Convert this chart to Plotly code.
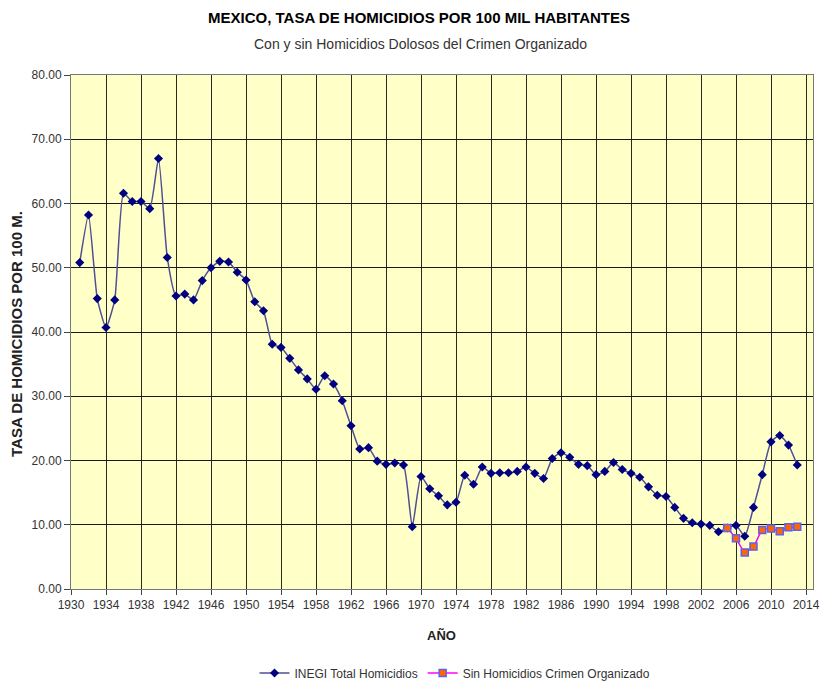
import plotly.graph_objects as go

years = list(range(1931, 2014))
inegi_total = [
    50.8, 58.2, 45.2, 40.7, 45.0, 61.6, 60.3, 60.3, 59.2, 67.0,
    51.6, 45.6, 45.9, 45.0, 48.0, 50.0, 51.0, 50.9, 49.3, 48.1,
    44.7, 43.3, 38.1, 37.6, 35.9, 34.1, 32.7, 31.1, 33.2, 31.9,
    29.3, 25.4, 21.8, 22.0, 19.9, 19.4, 19.6, 19.3, 9.7, 17.5,
    15.6, 14.5, 13.1, 13.5, 17.7, 16.3, 19.0, 18.0, 18.1, 18.1,
    18.3, 19.0, 18.0, 17.2, 20.3, 21.2, 20.5, 19.4, 19.2, 17.8,
    18.3, 19.7, 18.6, 18.0, 17.4, 15.9, 14.6, 14.4, 12.7, 11.0,
    10.3, 10.1, 9.9, 8.9, 9.5, 9.9, 8.2, 12.7, 17.8, 22.9,
    23.9, 22.4, 19.3,
]
sin_years = list(range(2005, 2014))
sin_crimen = [9.5, 7.9, 5.7, 6.6, 9.2, 9.4, 9.0, 9.6, 9.7]

x_ticks = list(range(1930, 2015, 4))
y_ticks = [0, 10, 20, 30, 40, 50, 60, 70, 80]

FONT = "Liberation Sans Narrow, Arial Narrow, Liberation Sans, Arial, sans-serif"

# plot area in window pixels: left 71, right 813, top 75, bottom 589
PW, PH = 742, 514

fig = go.Figure()
fig.add_trace(go.Scatter(
    x=years, y=inegi_total, mode="lines+markers",
    name="INEGI Total Homicidios",
    line=dict(color="#4f4f96", width=1.5, shape="spline", smoothing=0.5),
    marker=dict(symbol="diamond", size=7, color="#000080"),
))
fig.add_trace(go.Scatter(
    x=sin_years, y=sin_crimen, mode="lines+markers",
    name="Sin Homicidios Crimen Organizado",
    line=dict(color="#FF00FF", width=1.5, shape="spline", smoothing=0.5),
    marker=dict(symbol="square", size=7, color="#FF6600",
                line=dict(color="#6060F0", width=1.5)),
))

fig.update_layout(
    width=820, height=681,
    margin=dict(l=71, r=7, t=75, b=92, autoexpand=False),
    paper_bgcolor="white",
    plot_bgcolor="#FFFFC8",
    font=dict(family=FONT, size=12, color="#333333"),
    showlegend=True,
    legend=dict(orientation="h", x=(455 - 71) / PW, xanchor="center",
                y=-(673 - 589) / PH, yanchor="middle",
                font=dict(family=FONT, size=12, color="#333333"),
                bgcolor="rgba(0,0,0,0)", itemwidth=30),
    annotations=[
        dict(text="<b>MEXICO, TASA DE HOMICIDIOS POR 100 MIL HABITANTES</b>",
             xref="paper", yref="paper", x=(419 - 71) / PW, y=(589 - 18) / PH,
             xanchor="center", yanchor="middle", showarrow=False,
             font=dict(family=FONT, size=15, color="#000000")),
        dict(text="Con y sin Homicidios Dolosos del Crimen Organizado",
             xref="paper", yref="paper", x=(420 - 71) / PW, y=(589 - 44) / PH,
             xanchor="center", yanchor="middle", showarrow=False,
             font=dict(family=FONT, size=14, color="#333333")),
        dict(text="<b>TASA DE HOMICIDIOS POR 100 M.</b>",
             xref="paper", yref="paper", x=-(71 - 16) / PW, y=(589 - 334) / PH,
             xanchor="center", yanchor="middle", showarrow=False, textangle=-90,
             font=dict(family=FONT, size=15, color="#222222")),
        dict(text="<b>AÑO</b>",
             xref="paper", yref="paper", x=(441 - 71) / PW, y=-(635 - 589) / PH,
             xanchor="center", yanchor="middle", showarrow=False,
             font=dict(family=FONT, size=13, color="#222222")),
    ],
)

fig.update_xaxes(
    range=[1930, 2014.8], tickvals=x_ticks, ticktext=[str(v) for v in x_ticks],
    showgrid=True, gridcolor="#2a2a20", gridwidth=1,
    ticks="outside", ticklen=5, tickcolor="#444444",
    showline=True, linecolor="#777777", linewidth=1, mirror=True,
    zeroline=False, automargin=False,
    tickfont=dict(family=FONT, size=12, color="#333333"),
)
fig.update_yaxes(
    range=[0, 80], tickvals=y_ticks, ticktext=[f"{v:.2f}" for v in y_ticks],
    showgrid=True, gridcolor="#1a1a1a", gridwidth=1,
    ticks="outside", ticklen=6, tickcolor="#444444",
    showline=True, linecolor="#777777", linewidth=1, mirror=True,
    zeroline=False, automargin=False,
    tickfont=dict(family=FONT, size=12, color="#333333"),
)

fig.write_html(
    "out.html",
    config={"displayModeBar": False},
    post_script="document.body.style.margin='0';document.body.style.overflow='hidden';",
)
